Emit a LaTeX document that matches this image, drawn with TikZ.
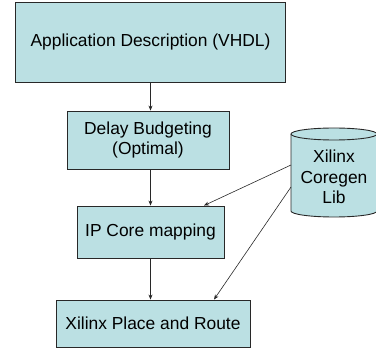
\documentclass[tikz,border=0pt]{standalone}
\usepackage{fontspec}
\setmainfont{Liberation Sans}
\usetikzlibrary{arrows.meta}
\definecolor{boxfill}{RGB}{187,224,227}
\definecolor{edge}{RGB}{40,40,40}
\begin{document}
\begin{tikzpicture}[x=1pt,y=-1pt,
  stepbox/.style={draw=edge,line width=0.9pt,fill=boxfill,inner sep=0pt,align=center,
    font=\fontsize{17.4}{20.5}\selectfont},
  conn/.style={draw=edge,line width=0.6pt,-{Stealth[length=5pt,width=4pt]}}]
\useasboundingbox (0,0) rectangle (376,350);
\node[stepbox,minimum width=270pt,minimum height=80pt] (app) at (150.5,42) {Application Description (VHDL)};
\node[stepbox,minimum width=162pt,minimum height=58pt] (delay) at (148,140) {Delay Budgeting\\(Optimal)};
\node[stepbox,minimum width=147pt,minimum height=52pt] (ip) at (150.5,232) {IP Core mapping};
\node[stepbox,minimum width=194pt,minimum height=47pt] (par) at (153,323.5) {Xilinx Place and Route};
% cylinder
\filldraw[draw=edge,line width=0.9pt,fill=boxfill]
  (291,134) -- (291,211) arc[start angle=180,end angle=0,x radius=43,y radius=6]
  -- (377,134) arc[start angle=0,end angle=-180,x radius=43,y radius=6] -- cycle;
\draw[edge,line width=0.9pt] (291,134) arc[start angle=180,end angle=0,x radius=43,y radius=6];
\node[align=center,inner sep=0pt,minimum width=86pt,minimum height=70pt,
  font=\fontsize{17.4}{20.5}\selectfont] (lib) at (334,177) {Xilinx\\Coregen\\Lib};
\coordinate (libA) at (291,165);
\coordinate (libB) at (291,187);
\draw[conn] (app.south) -- (delay.north -| app.south);
\draw[conn] (delay.south -| app.south) -- (ip.north -| app.south);
\draw[conn] (ip.south -| app.south) -- (par.north -| app.south);
\draw[conn] (libA) -- (ip.north -| 204,0);
\draw[conn] (libB) -- (par.north -| 214,0);
\end{tikzpicture}
\end{document}
